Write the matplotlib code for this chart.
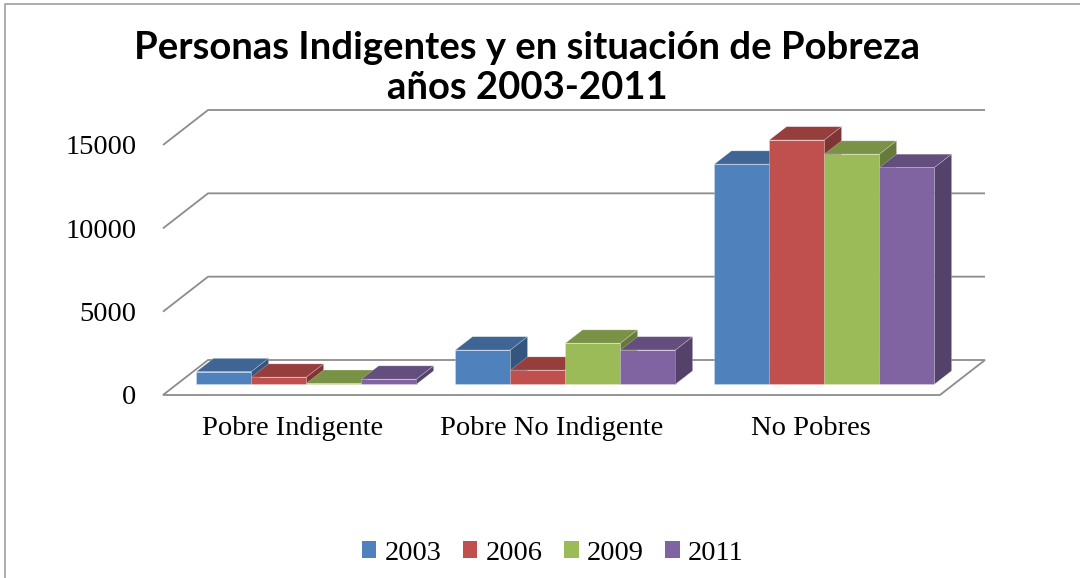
import numpy as np
import matplotlib
matplotlib.use("Agg")
import matplotlib.pyplot as plt
from matplotlib.patches import Polygon, Patch
from matplotlib.lines import Line2D

categories = ["Pobre Indigente", "Pobre No Indigente", "No Pobres"]
years = ["2003", "2006", "2009", "2011"]
v2003 = [750, 2050, 13200]
v2006 = [420, 840, 14650]
v2009 = [50, 2460, 13800]
v2011 = [300, 2050, 13000]
yticks = [0, 5000, 10000, 15000]
colors = ["#4F81BD", "#C0504D", "#9BBB59", "#8064A2"]
series = [v2003, v2006, v2009, v2011]

# fake 3-D: floor depth offset in data units (x in categories, y in values)
DX, DY = 0.174, 2100
D0, D1 = 0.31, 0.69          # bar front / back as fraction of floor depth
BW = 0.2125                  # bar width
GRID = "#8C8C8C"

def shade(c, f):
    r, g, b = matplotlib.colors.to_rgb(c)
    return (r * f, g * f, b * f)

def proj(x, v, d):
    return (x + d * DX, v + d * DY)

fig = plt.figure(figsize=(10.8, 5.78), dpi=100)
W, H = 1080, 578
ax = fig.add_axes([163 / W, 1 - 395 / H, (985 - 163) / W, (395 - 110) / H])
ax.set_xlim(0, 3 + DX)
ax.set_ylim(0, 15000 + DY)
for s in ax.spines.values():
    s.set_visible(False)

# walls / gridlines
for v in yticks[1:]:
    ax.plot([0, DX, 3 + DX], [v, v + DY, v + DY], color=GRID, lw=1.3, zorder=1,
            clip_on=False, solid_capstyle="butt")
floor = Polygon([(0, 0), (3, 0), (3 + DX, DY), (DX, DY)], closed=True,
                facecolor="white", edgecolor=GRID, lw=1.3, zorder=1, clip_on=False)
ax.add_patch(floor)

# bars, left to right so later bars hide earlier side faces
z = 3
for ci in range(len(categories)):
    start = ci + (1 - BW * len(series)) / 2
    for si, vals in enumerate(series):
        v = vals[ci]
        x0 = start + si * BW
        x1 = x0 + BW
        c = colors[si]
        front = [proj(x0, 0, D0), proj(x1, 0, D0), proj(x1, v, D0), proj(x0, v, D0)]
        top = [proj(x0, v, D0), proj(x1, v, D0), proj(x1, v, D1), proj(x0, v, D1)]
        side = [proj(x1, 0, D0), proj(x1, 0, D1), proj(x1, v, D1), proj(x1, v, D0)]
        ax.add_patch(Polygon(front, closed=True, facecolor=c, edgecolor=(1, 1, 1, 0.35),
                             lw=0.5, zorder=z, clip_on=False))
        ax.add_patch(Polygon(top, closed=True, facecolor=shade(c, 0.78), edgecolor=(1, 1, 1, 0.3),
                             lw=0.5, zorder=z, clip_on=False))
        ax.add_patch(Polygon(side, closed=True, facecolor=shade(c, 0.66), edgecolor=(1, 1, 1, 0.3),
                             lw=0.5, zorder=z, clip_on=False))
        z += 1

ax.set_yticks(yticks)
ax.set_yticklabels([str(t) for t in yticks])
ax.set_xticks([0.5, 1.5, 2.5])
ax.set_xticklabels(categories)
ax.tick_params(axis="y", length=0, pad=19, labelsize=20.5)
ax.tick_params(axis="x", length=0, pad=15, labelsize=20.5)
for lab in ax.get_xticklabels() + ax.get_yticklabels():
    lab.set_family("Liberation Serif")

fig.text(527 / W, 1 - 68 / H, "Personas Indigentes y en situación de Pobreza\naños 2003-2011",
         ha="center", va="center", fontsize=27.5, fontweight="bold", family="Lato",
         linespacing=1.22)

handles = [Patch(facecolor=c, edgecolor="none") for c in colors]
fig.legend(handles, years, loc="center", bbox_to_anchor=(553 / W, 1 - 553 / H), ncol=4,
           frameon=False, handlelength=0.5, handleheight=0.5, handletextpad=0.3,
           columnspacing=0.75, prop={"family": "Liberation Serif", "size": 20.5})

# chart border (top and left edges visible)
fig.add_artist(Line2D([5 / W, 5 / W, 1], [0, 1 - 4 / H, 1 - 4 / H], color="#A0A0A0", lw=1.2))

fig.savefig("out.png", dpi=100)
